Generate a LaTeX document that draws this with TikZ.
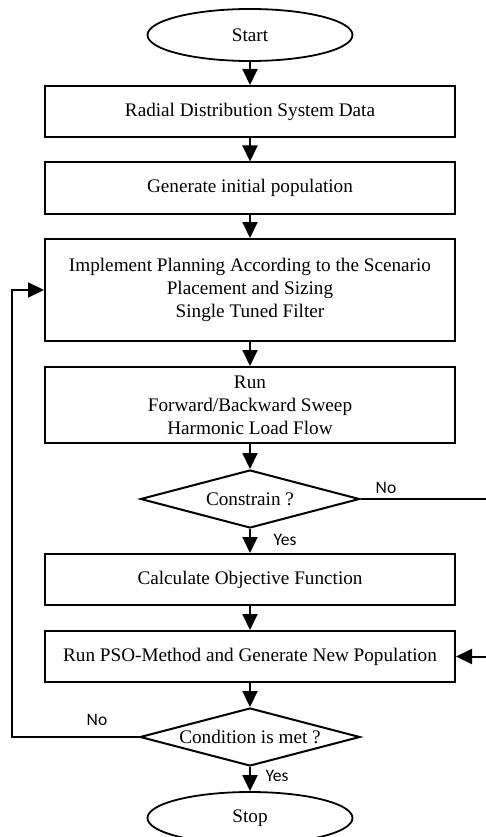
\documentclass[tikz,border=0pt]{standalone}
\usepackage{fontspec}
\setmainfont{Liberation Serif}
\newfontfamily\yesnofont{Carlito}
\usepackage{tikz}
\usetikzlibrary{positioning}
\usetikzlibrary{shapes.geometric}
\usetikzlibrary{arrows.meta}
\usetikzlibrary{calc}

\begin{document}
\begin{tikzpicture}[x=1pt,y=-1pt,font=\fontsize{19.2}{23}\selectfont,
  process/.style={draw,line width=2pt,minimum width=410pt,minimum height=51pt,align=center,inner sep=0pt},
  terminal/.style={draw,ellipse,line width=1.8pt,minimum width=205pt,minimum height=52pt,inner sep=0pt},
  decision/.style={draw,diamond,shape aspect=3.8,line width=2pt,minimum width=219pt,minimum height=58pt,inner sep=0pt},
  flow/.style={line width=2pt,-{Triangle[length=16pt,width=15pt]}},
  answer/.style={font=\yesnofont\fontsize{17.5}{17.5}\selectfont}]
  \useasboundingbox (0,0) rectangle (485,837);
  \node[terminal] (start) at (250,35) {Start};
  \node[process] (data) at (250,111.5) {Radial Distribution System Data};
  \node[process] (init) at (250,188) {Generate initial population};
  \node[process,minimum height=102pt] (plan) at (250,290) {Implement Planning According to the Scenario\\Placement and Sizing\\Single Tuned Filter};
  \node[process,minimum height=76pt] (hlf) at (250,405) {Run\\Forward/Backward Sweep\\Harmonic Load Flow};
  \node[decision] (constr) at (250,499) {Constrain ?};
  \node[process] (objfn) at (250,579.5) {Calculate Objective Function};
  \node[process] (pso) at (250,656.5) {Run PSO-Method and Generate New Population};
  \node[decision,minimum width=220pt] (cond) at (250,737) {Condition is met ?};
  \node[terminal] (stop) at (250,818) {Stop};
  \node[answer] (noright) at (386,488) {No};
  \node[answer] (yesmid) at (285,540) {Yes};
  \node[answer] (noleft) at (97,720) {No};
  \node[answer] (yesend) at (277,776) {Yes};
  \coordinate (rtop) at (492,499);
  \coordinate (lbot) at (12,737);
  \draw[flow] (start) -- (data);
  \draw[flow] (data) -- (init);
  \draw[flow] (init) -- (plan);
  \draw[flow] (plan) -- (hlf);
  \draw[flow] (hlf) -- (constr);
  \draw[flow] (constr) -- (objfn);
  \draw[flow] (objfn) -- (pso);
  \draw[flow] (pso) -- (cond);
  \draw[flow] (cond) -- (stop);
  \draw[line width=2pt] (constr.east) -- (rtop);
  \draw[flow] (rtop) |- (pso.east);
  \draw[flow] (cond.west) -- (lbot) |- (plan.west);
\end{tikzpicture}
\end{document}
